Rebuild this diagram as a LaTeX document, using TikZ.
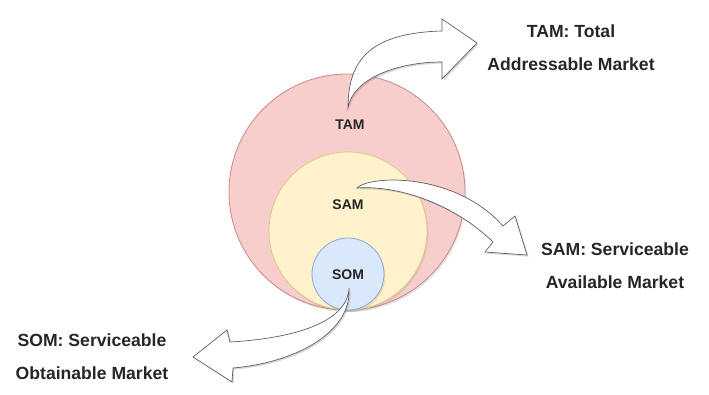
\documentclass[tikz,border=0pt]{standalone}
\usepackage{fontspec}
\setmainfont{Liberation Sans}
\usetikzlibrary{shadows}

\definecolor{tamfill}{HTML}{F8CECC}
\definecolor{tamline}{HTML}{C98886}
\definecolor{samfill}{HTML}{FFF2CC}
\definecolor{samline}{HTML}{E0C883}
\definecolor{somfill}{HTML}{DAE8FC}
\definecolor{somline}{HTML}{8FA9CF}

\begin{document}
\begin{tikzpicture}[
  x=0.75pt, y=-0.75pt,
  ring/.style={circle, draw, line width=0.6pt, inner sep=0pt,
    drop shadow={opacity=0.2, shadow xshift=1pt, shadow yshift=-1.5pt}},
  inlabel/.style={font=\bfseries\fontsize{10.5}{12}\selectfont, text=black!85},
  outlabel/.style={align=center, font=\bfseries\fontsize{13.2}{24.75}\selectfont, text=black!85},
  bigarrow/.style={draw=black!65, fill=white, line width=0.5pt, line join=miter,
    drop shadow={opacity=0.3, shadow xshift=1.2pt, shadow yshift=-1.2pt}},
]
\useasboundingbox (0,0) rectangle (709,395);

% Market circles
\node[ring, fill=tamfill, draw=tamline, minimum size=177pt] (tam) at (347,192) {};
\node[ring, fill=samfill, draw=samline, minimum size=118.5pt] (sam) at (348,231) {};
\node[ring, fill=somfill, draw=somline, minimum size=54pt] (som) at (348,274) {};

% Circle labels
\node[inlabel] (tamtxt) at (350,125) {TAM};
\node[inlabel] (samtxt) at (348,205) {SAM};
\node[inlabel] (somtxt) at (348,275) {SOM};

% Descriptions
\node[outlabel] (tamdesc) at (571,48) {TAM: Total\\Addressable Market};
\node[outlabel] (samdesc) at (615,266) {SAM: Serviceable\\Available Market};
\node[outlabel] (somdesc) at (92,357) {SOM: Serviceable\\Obtainable Market};

% Arrow tails
\coordinate (tamtail) at (348,108);
\coordinate (samtail) at (357,188);
\coordinate (somtail) at (349,288);

% Block arrows
\draw[bigarrow] (tamtail) .. controls (348,60) and (370,33) .. (442,31)
  -- (442,19) -- (477,43) -- (442,79) -- (442,62)
  .. controls (395,62) and (352,80) .. (tamtail) -- cycle;
\draw[bigarrow] (samtail) .. controls (370,175) and (455,172) .. (503,226)
  -- (515,216) -- (527,255) -- (485,252) -- (493,242)
  .. controls (455,205) and (400,185) .. (samtail) -- cycle;
\draw[bigarrow] (somtail) .. controls (348,320) and (300,338) .. (230,342)
  -- (227,330) -- (193,357) -- (232,382) -- (233,368)
  .. controls (300,362) and (352,330) .. (somtail) -- cycle;

\end{tikzpicture}
\end{document}
